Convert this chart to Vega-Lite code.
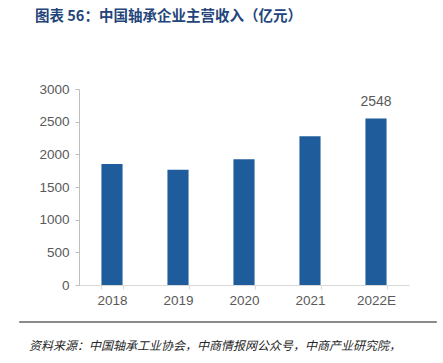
{
  "$schema": "https://vega.github.io/schema/vega-lite/v6.json",
  "padding": {"left": 18, "top": 8, "right": 0, "bottom": 5},
  "autosize": {"type": "pad"},
  "background": "white",
  "config": {
    "font": "Liberation Sans",
    "view": {"stroke": null},
    "concat": {"spacing": 8}
  },
  "vconcat": [
    {
      "width": 417,
      "height": 196,
      "title": {
        "text": "图表 56：中国轴承企业主营收入（亿元）",
        "anchor": "start",
        "frame": "group",
        "font": "Noto Sans CJK SC",
        "fontSize": 14.5,
        "fontWeight": "bold",
        "color": "#24457a",
        "offset": 58,
        "dx": 16
      },
      "data": {"values": [
        {"year": "2018", "revenue": 1852},
        {"year": "2019", "revenue": 1765},
        {"year": "2020", "revenue": 1924},
        {"year": "2021", "revenue": 2276},
        {"year": "2022E", "revenue": 2548}
      ]},
      "encoding": {
        "x": {
          "field": "year", "type": "nominal", "sort": null,
          "scale": {"range": [60, 390], "paddingInner": 0.68, "paddingOuter": 0.34},
          "axis": {
            "title": null, "labelAngle": 0, "labelFontSize": 13.5, "labelColor": "#595959",
            "domainColor": "#d9d9d9", "tickColor": "#d9d9d9", "tickBand": "extent",
            "tickSize": 4, "labelPadding": 4
          }
        },
        "y": {
          "field": "revenue", "type": "quantitative",
          "scale": {"domain": [0, 3000]},
          "axis": {
            "title": null, "values": [0, 500, 1000, 1500, 2000, 2500, 3000], "format": "d",
            "grid": false, "labelFontSize": 13.5, "labelColor": "#595959", "offset": -60,
            "domainColor": "#bfbfbf", "tickColor": "#bfbfbf", "tickSize": 4, "labelPadding": 6
          }
        }
      },
      "layer": [
        {"mark": {"type": "bar", "color": "#1f5c9b"}},
        {
          "transform": [{"filter": "datum.year == '2022E'"}],
          "mark": {"type": "text", "dy": -17, "fontSize": 14, "color": "#595959"},
          "encoding": {"text": {"field": "revenue", "type": "quantitative", "format": "d"}}
        }
      ]
    },
    {
      "width": 417,
      "height": 1,
      "view": {"stroke": "#8a8a8a", "strokeWidth": 1, "fill": "#8a8a8a"},
      "data": {"values": [{}]},
      "mark": {"type": "text"},
      "encoding": {},
      "title": {
        "text": "资料来源：中国轴承工业协会，中商情报网公众号，中商产业研究院，",
        "orient": "bottom",
        "anchor": "start",
        "font": "Noto Sans CJK SC",
        "fontStyle": "italic",
        "fontWeight": "normal",
        "fontSize": 12,
        "color": "#262626",
        "offset": 14,
        "dx": 10
      }
    }
  ]
}
